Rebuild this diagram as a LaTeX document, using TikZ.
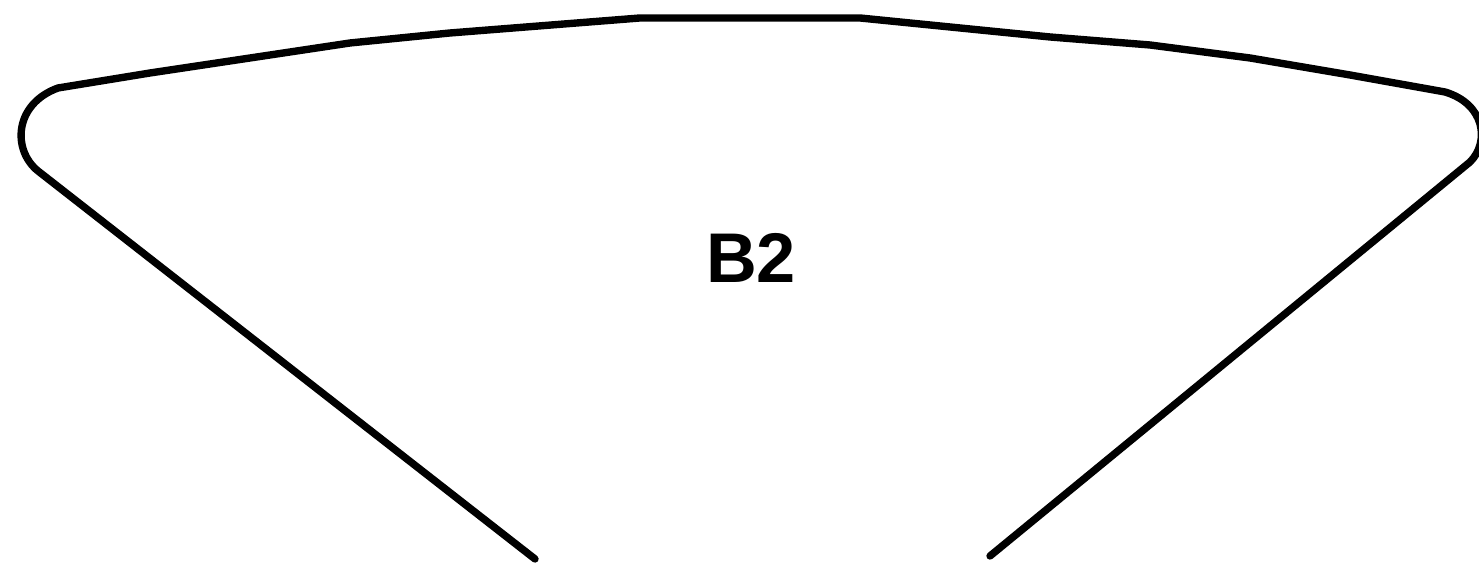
\documentclass[tikz,border=0pt]{standalone}
\usepackage{fontspec}
\setmainfont{Liberation Sans}
\begin{document}
\begin{tikzpicture}[x=0.01cm, y=-0.01cm, line join=round, line cap=round,
  rim/.style={line width=2.1pt, black},
  tag/.style={font=\fontsize{20}{24}\selectfont\bfseries}]
\useasboundingbox (0,0) rectangle (1479,565);
\path
(535,559) coordinate (LB)
(38,171) coordinate (LS)
(58,88) coordinate (LT)
(640,18) coordinate (TL)
(860,18) coordinate (TR)
(1445,92) coordinate (RT)
(1470,162) coordinate (RS)
(990,556) coordinate (RB)
;
\draw[rim] (LB)--(LS) .. controls (12,150) and (14,104) .. (LT)--(150,73)--(250,58)--(350,43)--(450,33)--(TL)--(TR)--(1050,37)--(1150,45)--(1250,58)--(1350,75)--(RT) .. controls (1485,104) and (1490,142) .. (RS)--(RB);
\node[tag] (B2) at (751,258) {B2};
\end{tikzpicture}
\end{document}
